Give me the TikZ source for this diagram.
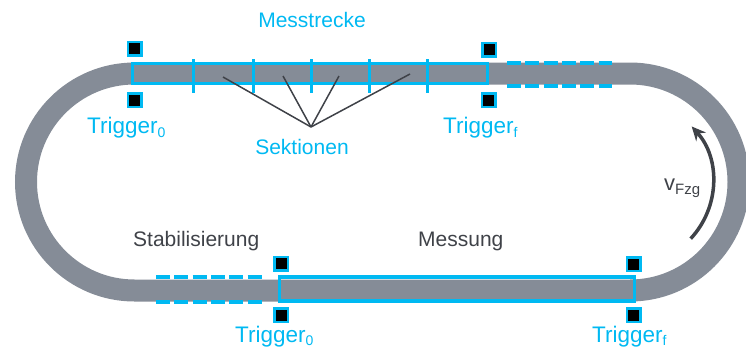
\documentclass[tikz,border=0pt]{standalone}
\usepackage{fontspec}
\setmainfont{Liberation Sans}
\usetikzlibrary{arrows.meta,calc}
\definecolor{trackgray}{HTML}{858C97}
\definecolor{cyanb}{HTML}{00B9F2}
\definecolor{darktxt}{HTML}{3F4248}
\newcommand\sbx[1]{\raisebox{-4.5pt}{\fontsize{14}{14}\selectfont #1}}
\newcommand\sbxlow[1]{\raisebox{-3pt}{\fontsize{14}{14}\selectfont #1}}
\tikzset{
  track/.style={draw=trackgray, line width=22pt},
  trig/.style={draw=cyanb, fill=black, line width=2.5pt, minimum size=13.5pt, inner sep=0pt, rectangle},
  zone/.style={draw=cyanb, line width=3pt},
  divider/.style={draw=cyanb, line width=3pt},
  dashrow/.style={draw=cyanb, line width=4pt, dash pattern=on 14pt off 4.3pt},
  lbl/.style={text=cyanb, inner sep=0pt, font=\fontsize{21}{25}\selectfont},
  trlbl/.style={text=cyanb, inner sep=0pt, font=\fontsize{22.5}{26}\selectfont, anchor=base west},
  dlbl/.style={text=darktxt, inner sep=0pt, font=\fontsize{21}{25}\selectfont, anchor=base west},
  pointer/.style={draw=darktxt, line width=1.5pt},
  vel/.style={draw=darktxt, line width=3.5pt, -{Stealth[length=14pt,width=13pt]}}
}
\begin{document}
\begin{tikzpicture}[x=1pt,y=-1pt]
\useasboundingbox (0,0) rectangle (746,349);
% track
\draw[track] (134.5,73.5) -- (630,73.5) arc[start angle=-90, end angle=90, radius=108.5]
  -- (134.5,290.5) arc[start angle=90, end angle=270, radius=108.5] -- cycle;
% top measuring zone
\draw[zone] (132.5,63.5) rectangle (487.5,83.5);
\foreach \xx in {193,253,311,369,427} \draw[divider] (\xx,59) -- (\xx,93);
% dashed stabilisation zones
\draw[dashrow] (507,62.5) -- (612,62.5);
\draw[dashrow] (507,85.5) -- (612,85.5);
\draw[dashrow] (156,277) -- (262,277);
\draw[dashrow] (156,302) -- (262,302);
% bottom measuring zone
\draw[zone, line width=3.5pt] (279.5,277) rectangle (634.5,301);
% trigger squares
\node[trig] (t0a) at (134.5,48.5) {};
\node[trig] (t0b) at (134.5,100) {};
\node[trig] (tfa) at (489,49.5) {};
\node[trig] (tfb) at (488.5,100) {};
\node[trig] (b0a) at (281,263.5) {};
\node[trig] (b0b) at (281,315) {};
\node[trig] (bfa) at (633.5,264) {};
\node[trig] (bfb) at (633.5,315) {};
% labels
\node[lbl, anchor=base] (mess) at (312,27) {Messtrecke};
\node[trlbl] (lt0) at (87,133) {Trigger\sbx{0}};
\node[trlbl] (ltf) at (443,133) {Trigger\sbx{f}};
\node[lbl, anchor=base] (sek) at (302,154) {Sektionen};
\node[dlbl] (stab) at (133,246) {Stabilisierung};
\node[dlbl] (mes) at (418,246) {Messung};
\node[trlbl] (lb0) at (235,342.5) {Trigger\sbxlow{0}};
\node[trlbl] (lbf) at (592,342.5) {Trigger\sbxlow{f}};
% section pointers
\coordinate (apex) at (311,127);
\coordinate (s1) at (223,77);
\coordinate (s2) at (283,76);
\coordinate (s3) at (339,76);
\coordinate (s4) at (410,74);
\foreach \s in {s1,s2,s3,s4} \draw[pointer] (apex) -- (\s);
% velocity arrow
\coordinate (vstart) at ($(630,182)+(43:83)$);
\draw[vel] (vstart) arc[start angle=43, end angle=-42, radius=83];
\node[text=darktxt, inner sep=0pt, anchor=base west, font=\fontsize{22}{26}\selectfont] (vlab) at (664,190) {v\raisebox{-4pt}{\fontsize{15}{15}\selectfont Fzg}};
\end{tikzpicture}
\end{document}
